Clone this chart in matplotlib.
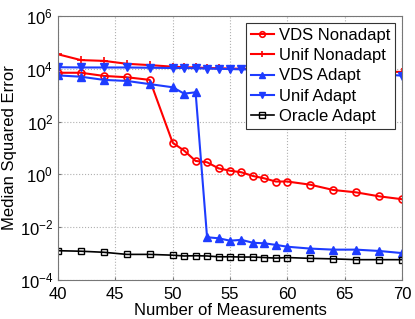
import matplotlib
matplotlib.use('Agg')
import matplotlib.pyplot as plt
import numpy as np

plt.rcParams['font.family'] = ['Liberation Sans', 'DejaVu Sans']

# numero de medidas
m = [40, 42, 44, 46, 48, 50, 51, 52, 53, 54, 55, 56, 57, 58, 59, 60, 62, 64, 66, 68, 70]

# log10 del error mediano
log_vds_nonadapt = [3.85, 3.85, 3.73, 3.68, 3.58, 1.2, 0.9, 0.51, 0.46, 0.23, 0.14, 0.08,
                    -0.06, -0.15, -0.27, -0.27, -0.39, -0.59, -0.68, -0.83, -0.94]
log_unif_nonadapt = [4.55, 4.33, 4.30, 4.19, 4.14, 4.08, 4.06, 4.05, 4.03, 4.02, 4.01, 4.0,
                     3.99, 3.98, 3.97, 3.96, 3.95, 3.93, 3.91, 3.90, 3.88]
log_vds_adapt = [3.75, 3.70, 3.58, 3.54, 3.42, 3.30, 3.06, 3.11, -2.38, -2.42, -2.51, -2.48,
                 -2.59, -2.61, -2.67, -2.74, -2.81, -2.85, -2.85, -2.90, -2.98]
log_unif_adapt = [4.06, 4.05, 4.05, 4.05, 4.04, 4.03, 4.03, 4.02, 4.01, 4.0, 3.99, 3.98,
                  3.97, 3.96, 3.95, 3.95, 3.92, 3.88, 3.84, 3.80, 3.74]
log_oracle = [-2.89, -2.91, -2.95, -3.03, -3.03, -3.06, -3.09, -3.08, -3.09, -3.12, -3.12,
              -3.13, -3.13, -3.15, -3.17, -3.15, -3.18, -3.20, -3.23, -3.23, -3.23]

red = '#ff0000'
blue = '#1e3cff'

fig = plt.figure(figsize=(4.15, 3.19), dpi=100)
ax = fig.add_axes([58 / 415, 1 - 280 / 319, 344 / 415, 264 / 319])

ax.plot(m, 10 ** np.array(log_vds_nonadapt), color=red, lw=1.5, marker='o',
        ms=5, mfc='none', mew=1.2, label='VDS Nonadapt')
ax.plot(m, 10 ** np.array(log_unif_nonadapt), color=red, lw=1.5, marker='+',
        ms=6, mew=1.2, label='Unif Nonadapt')
ax.plot(m, 10 ** np.array(log_vds_adapt), color=blue, lw=1.5, marker='^',
        ms=5.5, label='VDS Adapt')
ax.plot(m, 10 ** np.array(log_unif_adapt), color=blue, lw=1.5, marker='v',
        ms=5.5, label='Unif Adapt')
ax.plot(m, 10 ** np.array(log_oracle), color='black', lw=1.2, marker='s',
        ms=5, mfc='none', mew=1.0, label='Oracle Adapt')

ax.set_yscale('log')
ax.set_xlim(40, 70)
ax.set_ylim(1e-4, 1e6)
ax.set_xticks([40, 45, 50, 55, 60, 65, 70])
ax.set_yticks([1e-4, 1e-2, 1e0, 1e2, 1e4, 1e6])
ax.minorticks_off()
ax.tick_params(direction='in', labelsize=12, length=2, color='#777777')
ax.tick_params(axis='x', pad=5)
ax.grid(True, linestyle=':', color='#b0b0b0', lw=0.8)
for s in ax.spines.values():
    s.set_color('#777777')

ax.set_xlabel('Number of Measurements', fontsize=12, labelpad=1)
ax.set_ylabel('Median Squared Error', fontsize=12, labelpad=2)

leg = ax.legend(loc='upper right', fontsize=12, fancybox=False, framealpha=1,
                edgecolor='#333333', handlelength=1.4, handletextpad=0.3,
                borderpad=0.3, labelspacing=0.32, borderaxespad=0.4,
                markerscale=0.8)
leg.get_frame().set_linewidth(0.8)

fig.savefig('out.png', dpi=100)
